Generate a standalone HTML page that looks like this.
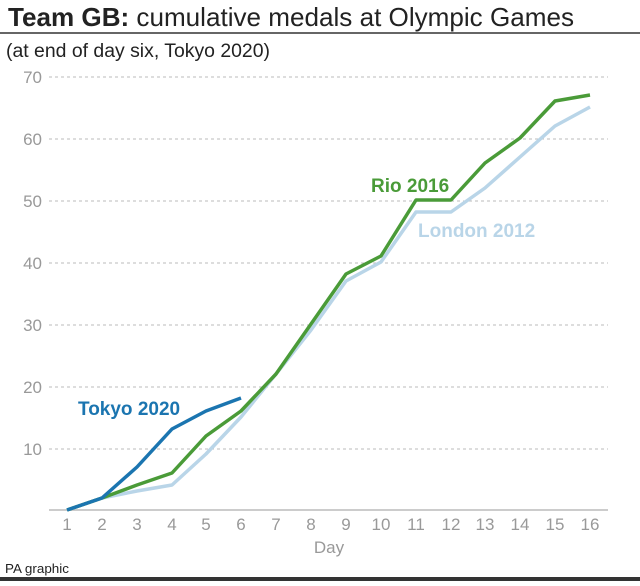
<!DOCTYPE html>
<html><head><meta charset="utf-8"><style>
html,body{margin:0;padding:0;background:#fff;}
body{width:640px;height:581px;overflow:hidden;font-family:"Liberation Sans",sans-serif;}
</style></head><body>
<svg width="640" height="581" viewBox="0 0 640 581" xmlns="http://www.w3.org/2000/svg" font-family="Liberation Sans, sans-serif">
<text x="8" y="26" font-size="26" fill="#222" textLength="566" lengthAdjust="spacingAndGlyphs"><tspan font-weight="bold">Team GB:</tspan> cumulative medals at Olympic Games</text>
<line x1="0" y1="33" x2="640" y2="33" stroke="#333" stroke-width="1.5"/>
<text x="6" y="57" font-size="19" fill="#222" textLength="264" lengthAdjust="spacingAndGlyphs">(at end of day six, Tokyo 2020)</text>
<g stroke="#bbb" stroke-width="1" stroke-dasharray="3,3">
<line x1="49" y1="77" x2="608" y2="77"/><line x1="49" y1="139" x2="608" y2="139"/>
<line x1="49" y1="201" x2="608" y2="201"/><line x1="49" y1="263" x2="608" y2="263"/>
<line x1="49" y1="325" x2="608" y2="325"/><line x1="49" y1="387" x2="608" y2="387"/>
<line x1="49" y1="449" x2="608" y2="449"/>
</g>
<line x1="49" y1="510" x2="608" y2="510" stroke="#ccc" stroke-width="2"/>
<g font-size="17" fill="#999" text-anchor="end">
<text x="42" y="83">70</text><text x="42" y="145">60</text><text x="42" y="207">50</text>
<text x="42" y="269">40</text><text x="42" y="331">30</text><text x="42" y="393">20</text><text x="42" y="455">10</text>
</g>
<g font-size="17" fill="#999" text-anchor="middle">
<text x="67" y="530">1</text><text x="102" y="530">2</text><text x="137" y="530">3</text><text x="172" y="530">4</text>
<text x="206" y="530">5</text><text x="241" y="530">6</text><text x="276" y="530">7</text><text x="311" y="530">8</text>
<text x="346" y="530">9</text><text x="381" y="530">10</text><text x="416" y="530">11</text><text x="451" y="530">12</text>
<text x="485" y="530">13</text><text x="520" y="530">14</text><text x="555" y="530">15</text><text x="590" y="530">16</text>
<text x="329" y="553">Day</text>
</g>
<polyline fill="none" stroke="#b9d5e8" stroke-width="3.5" stroke-linejoin="round" points="67,510 102,498 137,491 172,485 206,454 241,417 276,374 311,330 346,281 381,262 416,212 451,212 485,188 520,157 555,126 590,107"/>
<polyline fill="none" stroke="#4a9b38" stroke-width="3.5" stroke-linejoin="round" points="67,510 102,498 137,485 172,473 206,436 241,411 276,374 311,324 346,274 381,256 416,200 451,200 485,163 520,138 555,101 590,95"/>
<polyline fill="none" stroke="#1b75b0" stroke-width="3.5" stroke-linejoin="round" points="67,510 102,498 137,467 172,429 206,411 241,398"/>
<text x="371" y="192" font-size="19" font-weight="bold" fill="#4a9b38">Rio 2016</text>
<text x="418" y="237" font-size="19" font-weight="bold" fill="#b9d5e8">London 2012</text>
<text x="78" y="415" font-size="19" font-weight="bold" fill="#1b75b0">Tokyo 2020</text>
<text x="5" y="573" font-size="13" fill="#222" textLength="64" lengthAdjust="spacingAndGlyphs">PA graphic</text>
<rect x="0" y="577" width="640" height="4" fill="#333"/>
</svg>
</body></html>
